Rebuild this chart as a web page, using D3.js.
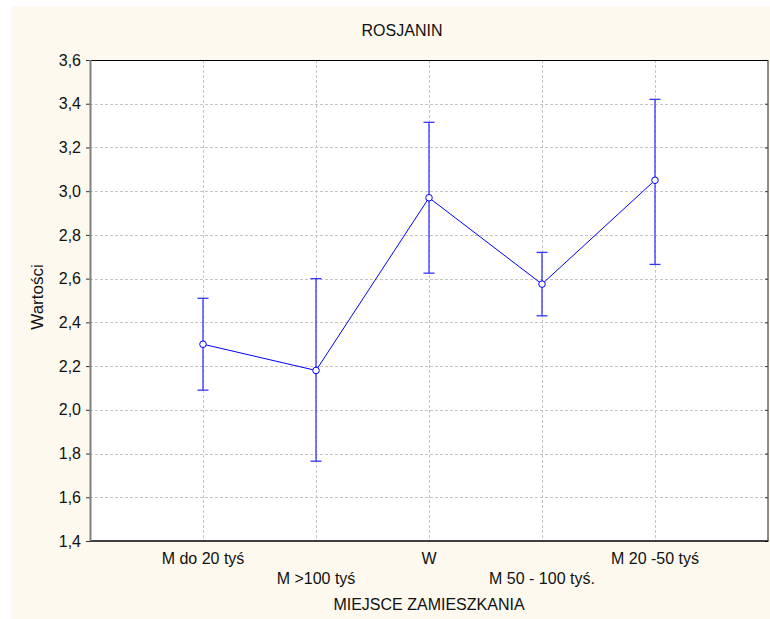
<!DOCTYPE html>
<html>
<head>
<meta charset="utf-8">
<script src="https://cdn.jsdelivr.net/npm/d3@7/dist/d3.min.js"></script>
<style>
html,body{margin:0;padding:0;background:#fff;}
svg{display:block;}
text{font-family:Arial,"Liberation Sans",sans-serif;fill:#111;}
</style>
</head>
<body>
<script>
const categories = ["M do 20 tyś", "M >100 tyś", "W", "M 50 - 100 tyś.", "M 20 -50 tyś"];
const means = [2.30, 2.18, 2.97, 2.575, 3.05];
const lower = [2.09, 1.765, 2.625, 2.43, 2.665];
const upper = [2.51, 2.60, 3.315, 2.72, 3.42];
const yTicks = [1.4, 1.6, 1.8, 2.0, 2.2, 2.4, 2.6, 2.8, 3.0, 3.2, 3.4, 3.6];
const title = "ROSJANIN";
const xTitle = "MIEJSCE ZAMIESZKANIA";
const yTitle = "Wartości";

const W = 770, H = 619;
const m = {left: 90, right: 768, top: 60, bottom: 541};

const svg = d3.select("body").append("svg").attr("width", W).attr("height", H);

// cream panel
svg.append("rect").attr("x", 11).attr("y", 6).attr("width", W - 11).attr("height", H - 6)
  .attr("fill", "#fdf9ee");

// plot area
svg.append("rect").attr("x", m.left).attr("y", m.top)
  .attr("width", m.right - m.left).attr("height", m.bottom - m.top).attr("fill", "#fff");

const x = d3.scalePoint().domain(categories).range([m.left, m.right]).padding(1);
const y = d3.scaleLinear().domain([1.4, 3.6]).range([m.bottom, m.top]);
const fmt = v => d3.format(".1f")(v).replace(".", ",");

// horizontal grid
svg.append("g").selectAll("line").data(yTicks.filter(v => v > 1.4 && v < 3.6)).join("line")
  .attr("x1", m.left).attr("x2", m.right)
  .attr("y1", d => Math.round(y(d)) + 0.5).attr("y2", d => Math.round(y(d)) + 0.5)
  .attr("stroke", "#c4c4c4").attr("stroke-dasharray", "3,2");
// vertical grid
svg.append("g").selectAll("line").data(categories).join("line")
  .attr("y1", m.top).attr("y2", m.bottom)
  .attr("x1", d => Math.round(x(d)) + 0.5).attr("x2", d => Math.round(x(d)) + 0.5)
  .attr("stroke", "#c4c4c4").attr("stroke-dasharray", "3,2");

// left axis
const yAxis = d3.axisLeft(y).tickValues(yTicks).tickFormat(fmt).tickSize(4).tickPadding(5);
const gy = svg.append("g").attr("transform", `translate(${m.left},0)`).call(yAxis);
gy.select(".domain").remove();
gy.selectAll(".tick line").attr("stroke", "#333");
gy.selectAll(".tick text").style("font-size", "16px").style("font-family", "Arial,'Liberation Sans',sans-serif").attr("fill", "#111");

// right axis ticks (inward)
const yAxisR = d3.axisLeft(y).tickValues(yTicks).tickFormat("").tickSize(3);
const gyr = svg.append("g").attr("transform", `translate(${m.right},0)`).call(yAxisR);
gyr.select(".domain").remove();
gyr.selectAll(".tick line").attr("stroke", "#333");

// frame
svg.append("line").attr("x1", m.left).attr("x2", m.right).attr("y1", m.top + 0.5).attr("y2", m.top + 0.5).attr("stroke", "#000");
svg.append("line").attr("x1", m.left).attr("x2", m.right + 0.5).attr("y1", m.bottom).attr("y2", m.bottom).attr("stroke", "#000").attr("stroke-width", 1.5);
svg.append("line").attr("x1", m.right).attr("x2", m.right).attr("y1", m.top).attr("y2", m.bottom).attr("stroke", "#444").attr("stroke-width", 1.2);
svg.append("line").attr("x1", m.left + 0.5).attr("x2", m.left + 0.5).attr("y1", m.top).attr("y2", m.bottom).attr("stroke", "#808080").attr("stroke-width", 2);

// x labels (staggered)
svg.append("g").selectAll("text").data(categories).join("text")
  .attr("x", d => x(d)).attr("y", (d, i) => i % 2 === 0 ? 564 : 584)
  .attr("text-anchor", "middle").style("font-size", "16px")
  .text(d => d);

// titles
svg.append("text").attr("x", 402).attr("y", 36).attr("text-anchor", "middle").style("font-size", "16px").text(title);
svg.append("text").attr("x", 429).attr("y", 610).attr("text-anchor", "middle").style("font-size", "16px").text(xTitle);
svg.append("text").attr("transform", "translate(43,297) rotate(-90)").attr("text-anchor", "middle").style("font-size", "17px").text(yTitle);

// error bars
const eb = svg.append("g").attr("stroke", "#3535ff").attr("stroke-width", 1.3);
categories.forEach((c, i) => {
  const cx = x(c);
  eb.append("line").attr("x1", cx).attr("x2", cx).attr("y1", y(lower[i])).attr("y2", y(upper[i]));
  eb.append("line").attr("x1", cx - 5.5).attr("x2", cx + 5.5).attr("y1", y(lower[i])).attr("y2", y(lower[i]));
  eb.append("line").attr("x1", cx - 5.5).attr("x2", cx + 5.5).attr("y1", y(upper[i])).attr("y2", y(upper[i]));
});

// mean line
const pts = categories.map((c, i) => [x(c), y(means[i])]);
svg.append("path").attr("d", d3.line()(pts)).attr("fill", "none").attr("stroke", "#0000ff").attr("stroke-width", 1);

// markers
svg.append("g").selectAll("circle").data(pts).join("circle")
  .attr("cx", d => d[0]).attr("cy", d => d[1]).attr("r", 3.3)
  .attr("fill", "#fff").attr("stroke", "#0000ff").attr("stroke-width", 1);
</script>
</body>
</html>
